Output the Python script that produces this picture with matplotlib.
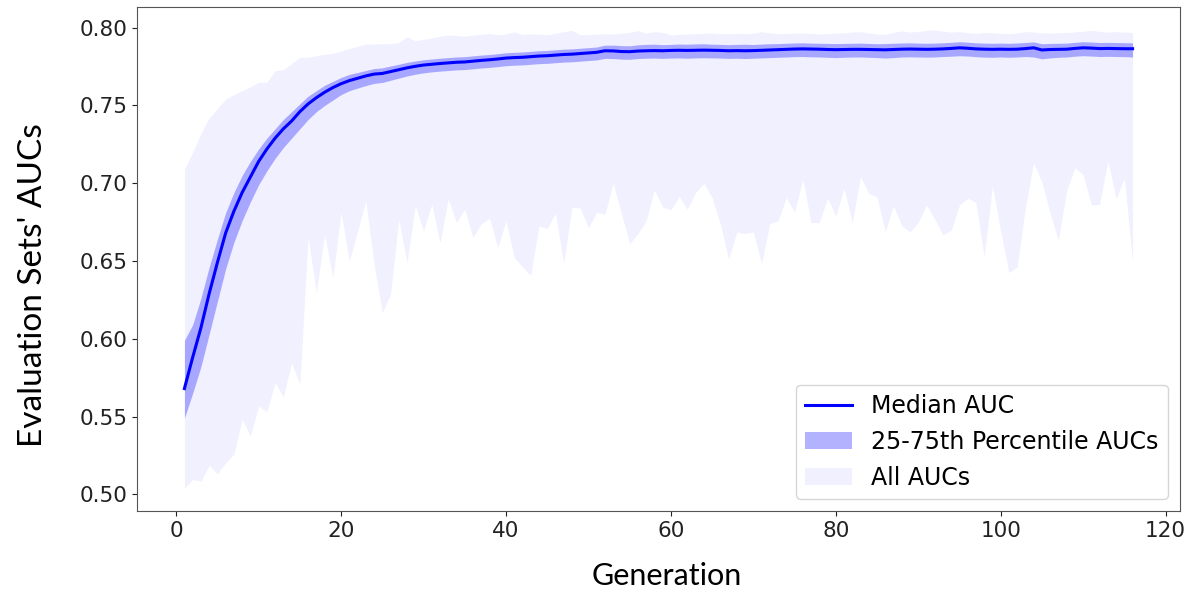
import numpy as np
import matplotlib
matplotlib.use("Agg")
import matplotlib.pyplot as plt

median_auc = [0.568, 0.588, 0.607, 0.629, 0.649, 0.668, 0.682, 0.694, 0.704, 0.714,
              0.722, 0.729, 0.735, 0.740, 0.746, 0.751, 0.755, 0.7585, 0.7615, 0.7640,
              0.7660, 0.7675, 0.7690, 0.7702, 0.7706, 0.7718, 0.7730, 0.7742, 0.7752, 0.7760,
              0.7765, 0.7770, 0.7774, 0.7778, 0.7780, 0.7785, 0.7790, 0.7794, 0.7799, 0.7805,
              0.7808, 0.7810, 0.7814, 0.7818, 0.7820, 0.7824, 0.7828, 0.7830, 0.7834, 0.7838,
              0.7842, 0.7852, 0.7851, 0.7847, 0.7846,
              0.7850, 0.7852, 0.7853, 0.7852, 0.7854, 0.7855, 0.7854, 0.7855, 0.7856, 0.7855, 0.7854,
              0.7852, 0.7853, 0.7852, 0.7853, 0.7855, 0.7857, 0.7859, 0.7861,
              0.7863, 0.7864, 0.7863, 0.7862, 0.7860, 0.7859, 0.7860, 0.7861,
              0.7861, 0.7860, 0.7859, 0.7858, 0.7860, 0.7862, 0.7863, 0.7862,
              0.7861, 0.7862, 0.7864, 0.7867, 0.7871, 0.7868, 0.7864, 0.7862,
              0.7861, 0.7862, 0.7861, 0.7862, 0.7866, 0.7871, 0.7857, 0.7860,
              0.7861, 0.7862, 0.7867, 0.7871, 0.7869, 0.7866, 0.7867, 0.7866, 0.7865, 0.7865]

q75_auc = [0.599, 0.609, 0.626, 0.646, 0.664, 0.681, 0.694, 0.705, 0.714, 0.722,
           0.729, 0.735, 0.741, 0.746, 0.751, 0.756, 0.7595, 0.763, 0.7655, 0.7680,
           0.7700, 0.7712, 0.7725, 0.7737, 0.7742, 0.7754, 0.7765, 0.7777, 0.7786, 0.7794,
           0.7799, 0.7804, 0.7808, 0.7812, 0.7814, 0.7819, 0.7824, 0.7828, 0.7833, 0.7839,
           0.7842, 0.7844, 0.7848, 0.7852, 0.7854, 0.7858, 0.7862, 0.7864, 0.7868, 0.7872,
           0.7876, 0.7888, 0.7888, 0.7885, 0.7884,
           0.7890, 0.7893, 0.7894, 0.7891, 0.7893, 0.7895, 0.7894, 0.7896, 0.7897, 0.7894, 0.7893,
           0.7891, 0.7893, 0.7894, 0.7892, 0.7895, 0.7897, 0.7898, 0.7900,
           0.7902, 0.7903, 0.7901, 0.7900, 0.7899, 0.7898, 0.7899, 0.7900,
           0.7901, 0.7899, 0.7897, 0.7898, 0.7900, 0.7902, 0.7903, 0.7901,
           0.7900, 0.7901, 0.7903, 0.7906, 0.7910, 0.7907, 0.7903, 0.7901,
           0.7900, 0.7901, 0.7900, 0.7902, 0.7905, 0.7909, 0.7897, 0.7899,
           0.7900, 0.7901, 0.7906, 0.7910, 0.7908, 0.7905, 0.7906, 0.7905, 0.7904, 0.7903]

q25_auc = [0.549, 0.565, 0.582, 0.603, 0.624, 0.645, 0.662, 0.676, 0.688, 0.699,
           0.708, 0.716, 0.723, 0.729, 0.735, 0.741, 0.746, 0.750, 0.7535, 0.7570,
           0.7595, 0.7612, 0.7628, 0.7642, 0.7648, 0.7662, 0.7676, 0.7690, 0.7701, 0.7710,
           0.7716, 0.7721, 0.7725, 0.7729, 0.7731, 0.7736, 0.7741, 0.7745, 0.7750, 0.7756,
           0.7759, 0.7761, 0.7765, 0.7769, 0.7771, 0.7775, 0.7779, 0.7781, 0.7785, 0.7789,
           0.7793, 0.7803, 0.7802, 0.7798, 0.7797,
           0.7802, 0.7804, 0.7805, 0.7803, 0.7805, 0.7806, 0.7804, 0.7806, 0.7807, 0.7806, 0.7805,
           0.7803, 0.7804, 0.7802, 0.7804, 0.7806, 0.7808, 0.7810, 0.7812,
           0.7814, 0.7815, 0.7813, 0.7812, 0.7810, 0.7808, 0.7810, 0.7812,
           0.7812, 0.7810, 0.7808, 0.7805, 0.7808, 0.7812, 0.7813, 0.7812,
           0.7811, 0.7812, 0.7815, 0.7817, 0.7820, 0.7818, 0.7814, 0.7811,
           0.7810, 0.7812, 0.7810, 0.7812, 0.7815, 0.7812, 0.7800, 0.7806,
           0.7810, 0.7812, 0.7817, 0.7820, 0.7818, 0.7815, 0.7816, 0.7815, 0.7814, 0.7812]

max_auc = [0.709, 0.720, 0.732, 0.742, 0.748, 0.754, 0.757, 0.7595, 0.762, 0.765,
           0.765, 0.7723, 0.773, 0.777, 0.781, 0.781, 0.782, 0.783, 0.7835, 0.785,
           0.7867, 0.7880, 0.7895, 0.7895, 0.7897, 0.7897, 0.7905, 0.7942, 0.7917, 0.7925,
           0.7935, 0.7945, 0.7953, 0.7950, 0.7945, 0.7953, 0.7958, 0.7963, 0.7955,
           0.7960, 0.7974, 0.7955, 0.7962, 0.7958, 0.7955, 0.7965, 0.7975, 0.7983, 0.7955,
           0.7956, 0.7958, 0.7962, 0.7960, 0.7965, 0.7970, 0.7982, 0.7965, 0.7975, 0.7970,
           0.7953, 0.7958, 0.7960, 0.7962, 0.7964, 0.7966, 0.7962, 0.7960, 0.7964,
           0.7962, 0.7965, 0.7975, 0.7968, 0.7962, 0.7963, 0.7965, 0.7966, 0.7964, 0.7960,
           0.7962, 0.7965, 0.7968, 0.7972, 0.7975, 0.7966, 0.7960, 0.7958, 0.7970, 0.7980,
           0.7972, 0.7976, 0.7983, 0.7986, 0.7978, 0.7972, 0.7975, 0.7968, 0.7965, 0.7970,
           0.7968, 0.7965, 0.7962, 0.7966, 0.7975, 0.7972, 0.7968, 0.7965, 0.7968, 0.7970,
           0.7973, 0.7978, 0.7983, 0.7976, 0.7972, 0.7975, 0.7972, 0.7970]

min_auc = [0.504, 0.5096, 0.5083, 0.5188, 0.5132, 0.5203, 0.5257, 0.5482, 0.5375, 0.5568,
           0.5531, 0.5718, 0.5625, 0.5846, 0.5707, 0.6651, 0.6297, 0.6672, 0.6393, 0.6812,
           0.6500, 0.6690, 0.6887, 0.6480, 0.6168, 0.6286, 0.6769, 0.6490, 0.6855, 0.6694,
           0.6865, 0.6618, 0.6898, 0.6747, 0.6833, 0.6651, 0.6740, 0.6775, 0.6586, 0.6758,
           0.6522, 0.6462, 0.6409, 0.6726, 0.6709, 0.6805, 0.6486, 0.6848, 0.6840, 0.6715,
           0.6812, 0.6801, 0.6998, 0.6805, 0.6612, 0.6676, 0.6758, 0.6956, 0.6848, 0.6829,
           0.6915, 0.6833, 0.6940, 0.6998, 0.6908, 0.6737, 0.6512, 0.6687, 0.6676, 0.6687,
           0.6483, 0.6741, 0.6758, 0.6908, 0.6812, 0.7026, 0.6747, 0.6747, 0.6904, 0.6790,
           0.6968, 0.6747, 0.7041, 0.6934, 0.6912, 0.6689, 0.6855, 0.6726, 0.6687, 0.6747,
           0.6861, 0.6769, 0.6668, 0.6698, 0.6861, 0.6904, 0.6876, 0.6526, 0.6983, 0.6694,
           0.6425, 0.6462, 0.6844, 0.7133, 0.7005, 0.6805, 0.6634, 0.6951, 0.7101, 0.7054,
           0.6861, 0.6864, 0.7144, 0.6904, 0.7032, 0.6490]

generations = np.arange(1, len(median_auc) + 1)
for arr in (q75_auc, q25_auc, max_auc, min_auc):
    assert len(arr) == len(median_auc), len(arr)

fig = plt.figure(figsize=(11.97, 5.94), dpi=100)
ax = fig.add_axes([137 / 1197, 1 - 511 / 594, (1180 - 137) / 1197, (511 - 7) / 594])

ax.fill_between(generations, min_auc, max_auc, color="blue", alpha=0.06,
                linewidth=0, label="All AUCs")
ax.fill_between(generations, q25_auc, q75_auc, color="blue", alpha=0.3,
                linewidth=0, label="25-75th Percentile AUCs")
ax.plot(generations, median_auc, color="blue", linewidth=2.2, label="Median AUC")

ax.set_yticks([0.50, 0.55, 0.60, 0.65, 0.70, 0.75, 0.80])
ax.set_xticks([0, 20, 40, 60, 80, 100, 120])
ax.tick_params(labelsize=15.5, colors="#222222")
for s in ax.spines.values():
    s.set_color("#555555")

handles, labels = ax.get_legend_handles_labels()
order = [2, 1, 0]
ax.legend([handles[i] for i in order], [labels[i] for i in order],
          loc="lower right", fontsize=17)

fig.text(667 / 1197, 1 - 576 / 594, "Generation", ha="center", va="center",
         fontsize=22, family=["Lato", "DejaVu Sans"])
fig.text(33 / 1197, 1 - 285 / 594, "Evaluation Sets' AUCs", ha="center", va="center",
         rotation=90, fontsize=24, family=["Lato", "DejaVu Sans"])

fig.savefig("out.png", dpi=100)
